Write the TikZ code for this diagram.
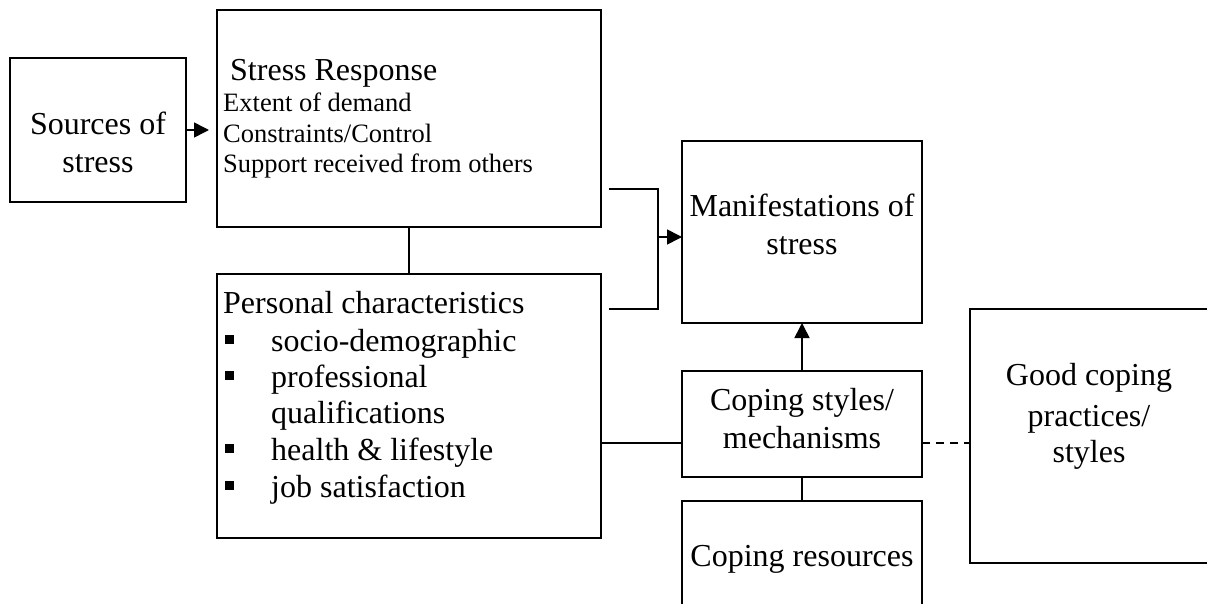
\documentclass[tikz,border=0pt]{standalone}
\usepackage{fontspec}
\setmainfont{Liberation Serif}
\usetikzlibrary{arrows.meta}
\tikzset{
  box/.style={draw, line width=1.6pt, rectangle, inner sep=0pt, outer sep=0pt},
  big/.style={font=\fontsize{32}{37}\selectfont, inner sep=0pt},
  small/.style={font=\fontsize{26.5}{30}\selectfont, inner sep=0pt},
  conn/.style={line width=1.6pt},
  arr/.style={conn, -{Triangle[length=15pt,width=15pt]}},
  bul/.style={inner sep=0pt, anchor=base west},
}
\begin{document}
\begin{tikzpicture}[x=1pt,y=-1pt]
\useasboundingbox (0,0) rectangle (1207,604);
\clip (0,0) rectangle (1207,604);

% boxes
\node[box, minimum width=176pt, minimum height=144pt] (src) at (98,130) {};
\node[box, minimum width=384pt, minimum height=217pt] (sr) at (409,118.5) {};
\node[box, minimum width=384pt, minimum height=264pt] (pc) at (409,406) {};
\node[box, minimum width=240pt, minimum height=182pt] (man) at (802,232) {};
\node[box, minimum width=240pt, minimum height=106pt] (cs) at (802,424) {};
\node[box, minimum width=240pt, minimum height=139pt] (cr) at (802,570.5) {};
\node[box, minimum width=239pt, minimum height=254pt] (gc) at (1089.5,436) {};

% texts
\node[big, anchor=base] (t1) at (98,135) {Sources of};
\node[big, anchor=base] (t2) at (98,173) {stress};

\node[big, anchor=base west] (t3) at (230,81) {Stress Response};
\node[small, anchor=base west] (t4) at (223,112) {Extent of demand};
\node[small, anchor=base west] (t5) at (223,143) {Constraints/Control};
\node[small, anchor=base west] (t6) at (223,173) {Support received from others};

\node[big, anchor=base west] (t7) at (223,313) {Personal characteristics};
\node[bul] (b1) at (225,351) {\rule[7pt]{9pt}{9pt}};
\node[big, anchor=base west] (t8) at (271,351) {socio-demographic};
\node[bul] (b2) at (225,387) {\rule[7pt]{9pt}{9pt}};
\node[big, anchor=base west] (t9) at (271,387) {professional};
\node[big, anchor=base west] (t10) at (271,423) {qualifications};
\node[bul] (b3) at (225,460) {\rule[7pt]{9pt}{9pt}};
\node[big, anchor=base west] (t11) at (271,460) {health \& lifestyle};
\node[bul] (b4) at (225,497) {\rule[7pt]{9pt}{9pt}};
\node[big, anchor=base west] (t12) at (271,497) {job satisfaction};

\node[big, anchor=base] (t13) at (802,217) {Manifestations of};
\node[big, anchor=base] (t14) at (802,254) {stress};

\node[big, anchor=base] (t15) at (802,410) {Coping styles/};
\node[big, anchor=base] (t16) at (802,448) {mechanisms};

\node[big, anchor=base] (t17) at (802,566) {Coping resources};

\node[big, anchor=base] (t18) at (1089,385) {Good coping};
\node[big, anchor=base] (t19) at (1089,426) {practices/};
\node[big, anchor=base] (t20) at (1089,462) {styles};

% connectors
\draw[arr, shorten >=8pt] (src.east) -- (src.east -| sr.west);
\draw[conn] (sr.south) -- (pc.north);

\coordinate (ua) at (609,189);
\coordinate (ub) at (658,189);
\coordinate (lb) at (658,309);
\coordinate (la) at (609,309);
\coordinate (mid) at (658,237);
\draw[conn] (ua) -- (ub) -- (lb) -- (la);
\draw[arr] (mid) -- (mid -| man.west);

\coordinate (py) at (0,443);
\draw[conn] (pc.east |- py) -- (cs.west |- py);
\draw[conn, dash pattern=on 8pt off 6pt] (cs.east |- py) -- (gc.west |- py);
\draw[arr] (cs.north) -- (man.south);
\draw[conn] (cs.south) -- (cr.north);
\end{tikzpicture}
\end{document}
